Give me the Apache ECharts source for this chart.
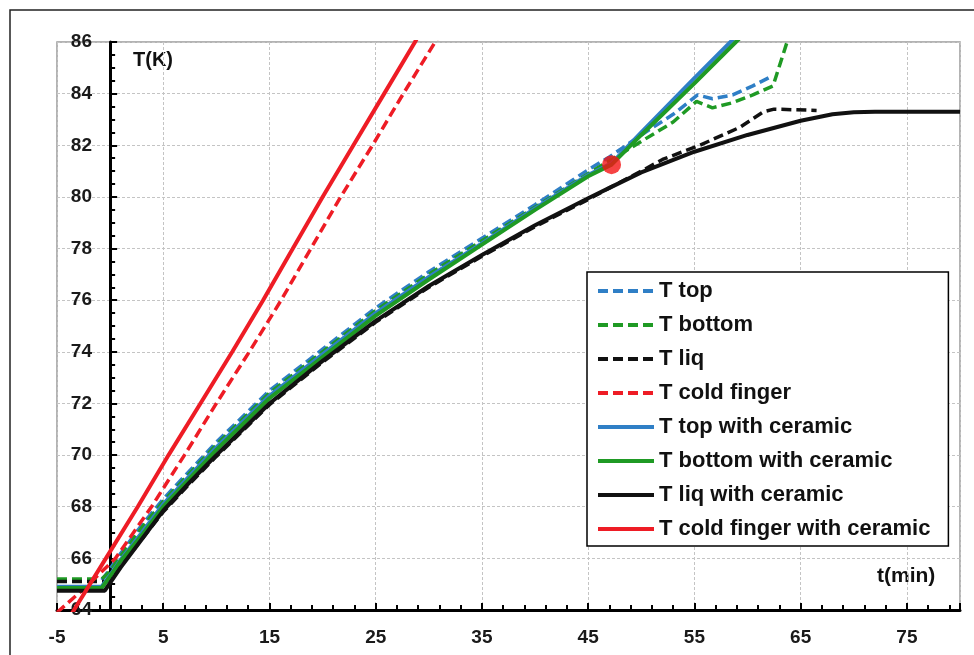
<!DOCTYPE html>
<html>
<head>
<meta charset="utf-8">
<script src="https://cdn.jsdelivr.net/npm/echarts@6/dist/echarts.min.js"></script>
<style>
  html, body { margin: 0; padding: 0; background: #fff; }
  #chart { width: 974px; height: 655px; }
</style>
</head>
<body>
<div id="chart"></div>
<script>
// legend order as in the source figure
const names = ['T top', 'T bottom', 'T liq', 'T cold finger',
  'T top with ceramic', 'T bottom with ceramic', 'T liq with ceramic', 'T cold finger with ceramic'];

// without ceramic (dashed)
const tTop = [-5, -0.8, 0, 1, 3, 5, 10, 15, 20, 25, 30, 35, 40, 45, 47, 50, 53, 55.3, 56.7, 58.6, 60.5, 62.4];
const vTop = [65.15, 65.15, 65.6, 66.2, 67.3, 68.3, 70.5, 72.5, 74.1, 75.7, 77.1, 78.4, 79.7, 81.05, 81.55, 82.4, 83.2, 83.95, 83.8, 83.95, 84.3, 84.7];

const tBottom = [-5, -0.8, 0, 1, 3, 5, 10, 15, 20, 25, 30, 35, 40, 45, 47, 50, 53, 55.2, 56.7, 58.6, 60.5, 62.4, 63.8, 64.4];
const vBottom = [65.2, 65.2, 65.5, 66.1, 67.2, 68.2, 70.4, 72.4, 74.0, 75.6, 77.0, 78.3, 79.6, 80.9, 81.4, 82.15, 82.9, 83.7, 83.45, 83.65, 83.95, 84.3, 86.1, 87];

const tLiq = [-5, -0.4, 0, 1, 3, 5, 7.5, 10, 15, 20, 25, 30, 35, 40, 45, 47, 50, 52, 55.5, 59.3, 61.5, 62.5, 66.5];
const vLiq = [65.1, 65.1, 65.25, 65.7, 66.75, 67.8, 68.9, 69.95, 71.95, 73.6, 75.15, 76.5, 77.7, 78.85, 79.9, 80.35, 81.0, 81.45, 82.0, 82.7, 83.3, 83.4, 83.35];

const tCold = [-5, -2, 0.5, 3.9, 7, 10, 13.1, 16.1, 18.9, 21.7, 24.7, 27.6, 30.6, 32];
const vCold = [63.9, 65.0, 66, 68, 70, 72, 74, 76, 78, 80, 82, 84, 86, 87];

// with ceramic (solid)
const tTopCer = [-5, -0.8, 0, 1, 3, 5, 10, 15, 20, 25, 30, 35, 40, 45, 47.2, 50, 55, 58.4, 60];
const vTopCer = [64.9, 64.9, 65.35, 65.95, 67.0, 68.1, 70.3, 72.3, 73.9, 75.5, 76.9, 78.2, 79.55, 80.85, 81.3, 82.5, 84.6, 86, 86.7];

const tBottomCer = [-5, -0.8, 0, 1, 3, 5, 10, 15, 20, 25, 30, 35, 40, 45, 47.2, 50, 55, 58.9, 60];
const vBottomCer = [64.85, 64.85, 65.3, 65.9, 66.9, 68.0, 70.2, 72.2, 73.8, 75.4, 76.8, 78.15, 79.5, 80.8, 81.25, 82.4, 84.4, 86, 86.45];

const tLiqCer = [-5, -0.5, 0, 1, 3, 5, 7.5, 10, 15, 20, 25, 30, 35, 40, 45, 47, 50, 55, 60, 65, 68, 70, 72, 80];
const vLiqCer = [64.75, 64.75, 65.05, 65.65, 66.75, 67.85, 68.95, 70.0, 72.0, 73.65, 75.2, 76.55, 77.75, 78.9, 79.95, 80.35, 80.95, 81.75, 82.4, 82.95, 83.2, 83.28, 83.3, 83.3];

const tColdCer = [-5, -3.4, -0.4, 2.6, 5.5, 8.5, 11.5, 14.4, 17.2, 20.0, 22.9, 25.8, 28.7, 30];
const vColdCer = [62.9, 64, 66, 68, 70, 72, 74, 76, 78, 80, 82, 84, 86, 87];

// marked crossing point
const dotPoint = [47.2, 81.25];

const xTicks = { min: -5, max: 80, step: 10 };
const yTicks = { min: 64, max: 86, step: 2 };

const colors = ['#2f7fc6', '#1f9a24', '#111111', '#ee1c25', '#2f7fc6', '#1f9a24', '#111111', '#ee1c25'];
const font = 'Liberation Sans, Arial, sans-serif';

function pairs(ts, vs) { return ts.map((t, i) => [t, vs[i]]); }

const seriesData = [
  pairs(tTop, vTop), pairs(tBottom, vBottom), pairs(tLiq, vLiq), pairs(tCold, vCold),
  pairs(tTopCer, vTopCer), pairs(tBottomCer, vBottomCer), pairs(tLiqCer, vLiqCer), pairs(tColdCer, vColdCer)
];

const series = seriesData.map((d, i) => ({
  name: names[i],
  type: 'line',
  data: d,
  showSymbol: false,
  symbol: 'none',
  clip: true,
  z: i < 4 ? 3 : 4,
  lineStyle: {
    color: colors[i],
    width: i < 4 ? 3.5 : 4,
    type: i < 4 ? [10, 5] : 'solid'
  },
  itemStyle: { color: colors[i] }
}));

series.push({
  name: 'point',
  type: 'scatter',
  data: [dotPoint],
  symbolSize: 19,
  z: 6,
  itemStyle: { color: '#f41414' }
});

const chart = echarts.init(document.getElementById('chart'));
chart.setOption({
  animation: false,
  backgroundColor: '#fff',
  grid: {
    left: 57, right: 14, top: 42, bottom: 45,
    show: true, borderColor: '#9a9a9a', borderWidth: 1.5
  },
  xAxis: {
    type: 'value',
    min: xTicks.min, max: xTicks.max, interval: xTicks.step,
    axisLine: { onZero: false, lineStyle: { color: '#000', width: 3 } },
    axisTick: { inside: true, length: 7, lineStyle: { color: '#000', width: 2 } },
    minorTick: { show: true, splitNumber: 5, length: 5, lineStyle: { color: '#000', width: 2 } },
    splitLine: { show: true, lineStyle: { color: '#c4c4c4', type: [3, 2], width: 1 } },
    axisLabel: { fontFamily: font, fontSize: 19, fontWeight: 'bold', color: '#1a1a1a', margin: 18, showMaxLabel: false }
  },
  yAxis: {
    type: 'value',
    min: yTicks.min, max: yTicks.max, interval: yTicks.step,
    axisLine: { onZero: true, lineStyle: { color: '#000', width: 3 } },
    axisTick: { inside: true, length: 7, lineStyle: { color: '#000', width: 2 } },
    minorTick: { show: true, splitNumber: 4, length: 5, lineStyle: { color: '#000', width: 2 } },
    splitLine: { show: true, lineStyle: { color: '#c4c4c4', type: [3, 2], width: 1 } },
    axisLabel: { fontFamily: font, fontSize: 19, fontWeight: 'bold', color: '#1a1a1a', margin: -35 }
  },
  legend: {
    data: names,
    orient: 'vertical',
    left: 587, top: 272,
    itemWidth: 56, itemHeight: 14, itemGap: 10,
    padding: [7, 18, 5, 9],
    backgroundColor: '#fff',
    borderColor: '#000', borderWidth: 1.5,
    itemStyle: { opacity: 0 },
    lineStyle: { width: 4 },
    textStyle: { fontFamily: font, fontSize: 22, fontWeight: 'bold', color: '#111', lineHeight: 24 }
  },
  graphic: [
    { type: 'rect', z: -1, shape: { x: 10, y: 10, width: 990, height: 700 },
      style: { fill: 'none', stroke: '#222', lineWidth: 1.5 } },
    { type: 'text', left: 133, top: 50,
      style: { text: 'T(K)', font: 'bold 20px ' + font, fill: '#111' } },
    { type: 'text', left: 877, top: 566,
      style: { text: 't(min)', font: 'bold 21px ' + font, fill: '#111' } }
  ],
  series: series
});
</script>
</body>
</html>
